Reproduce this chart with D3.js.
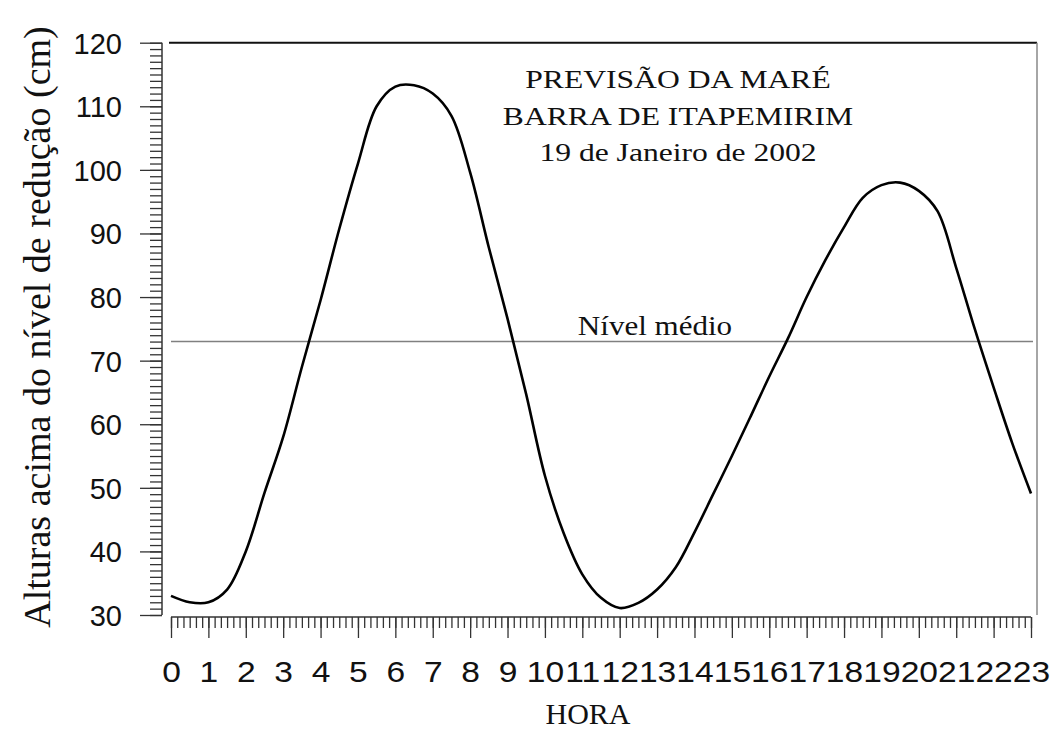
<!DOCTYPE html>
<html>
<head>
<meta charset="utf-8">
<script src="https://cdn.jsdelivr.net/npm/d3@7"></script>
<style>
  body { margin: 0; background: #fff; }
  svg { display: block; }
  .sans { font-family: "Liberation Sans", Arial, sans-serif; }
  .serif { font-family: "Liberation Serif", "Times New Roman", serif; }
</style>
</head>
<body>
<svg width="1051" height="733"></svg>
<script>
// horas (meia em meia hora) e alturas
const horas = [0, 0.5, 1, 1.5, 2, 2.5, 3, 3.5, 4, 4.5, 5, 5.5, 6, 6.5, 7, 7.5, 8, 8.5, 9, 9.5,
  10, 10.5, 11, 11.5, 12, 12.5, 13, 13.5, 14, 14.5, 15, 15.5, 16, 16.5, 17, 17.5, 18, 18.5,
  19, 19.5, 20, 20.5, 21, 21.5, 22, 22.5, 23];
const alturas = [33.0, 32.0, 32.0, 34.0, 40.0, 49.2, 58.0, 69.0, 79.5, 90.7, 101.0, 110.0, 113.1, 113.3, 112.0, 108.5, 99.6, 87.8, 76.6, 64.7,
  51.9, 42.9, 36.4, 32.7, 31.1, 31.9, 34.0, 37.5, 43.0, 49.0, 55.0, 61.2, 67.5, 73.5, 80.0, 85.8, 91.0, 95.6,
  97.6, 98.0, 96.7, 93.5, 84.6, 74.9, 65.8, 57.0, 49.1];
const nivelMedio = 73;
const yTicks = [30, 40, 50, 60, 70, 80, 90, 100, 110, 120];
const xTicks = d3.range(0, 24);
const titulo = ["PREVISÃO DA MARÉ", "BARRA DE ITAPEMIRIM", "19 de Janeiro de 2002"];

let svg = d3.select("svg");

const x = d3.scaleLinear().domain([0, 23]).range([171, 1031]);
const y = d3.scaleLinear().domain([30, 120]).range([615, 42.7]);

// moldura (topo e direita)
svg.append("line").attr("x1", 169).attr("x2", 1037).attr("y1", y(120)).attr("y2", y(120))
  .attr("stroke", "#111").attr("stroke-width", 2);
svg.append("line").attr("x1", 1037).attr("x2", 1037).attr("y1", y(120)).attr("y2", y(30))
  .attr("stroke", "#888").attr("stroke-width", 1.5);

// eixo y: ticks menores de 1 cm, maiores de 10 cm
const yMinor = svg.append("g").attr("transform", "translate(162,0)")
  .call(d3.axisLeft(y).tickValues(d3.range(30, 121, 1)).tickSize(12).tickFormat(""));
const yMajor = svg.append("g").attr("transform", "translate(162,0)").attr("class", "sans")
  .call(d3.axisLeft(y).tickValues(yTicks).tickSize(22).tickPadding(18));
yMajor.selectAll("text").attr("font-size", 29).attr("fill", "#111").attr("dy", "0.36em");

// eixo x: ticks de 10 em 10 minutos
const xMinor = svg.append("g").attr("transform", "translate(0,617)")
  .call(d3.axisBottom(x).tickValues(d3.range(0, 23 * 6 + 1).map(d => d / 6)).tickSize(11).tickFormat(""));
const xMajor = svg.append("g").attr("transform", "translate(0,617)").attr("class", "sans")
  .call(d3.axisBottom(x).tickValues(xTicks).tickSize(21).tickPadding(0));
xMajor.selectAll("text").attr("font-size", 30).attr("fill", "#111")
  .attr("y", 0).attr("dy", 0)
  .attr("transform", "translate(0,65) scale(1.12,1)");

[yMinor, yMajor, xMinor, xMajor].forEach(g => {
  g.selectAll("line").attr("stroke", "#333").attr("stroke-width", 1.3);
  g.select(".domain").attr("stroke", "#333").attr("stroke-width", 1.5);
});
xMinor.select(".domain").remove();
xMajor.select(".domain").attr("d", `M${x(0)},0H${x(23)}`);
yMinor.select(".domain").remove();
yMajor.select(".domain").attr("d", `M0,${y(120)}V${y(30)}`);

// nivel medio
svg.append("line").attr("x1", x(0)).attr("x2", x(23) + 2)
  .attr("y1", y(nivelMedio)).attr("y2", y(nivelMedio))
  .attr("stroke", "#808080").attr("stroke-width", 1.5);
svg.append("g").attr("transform", `translate(655,${y(nivelMedio) - 7}) scale(1.15,1)`)
  .append("text").attr("class", "serif").attr("font-size", 27).attr("text-anchor", "middle")
  .attr("fill", "#111").text("Nível médio");

// curva da mare
const linha = d3.line().x((d, i) => x(horas[i])).y(d => y(d)).curve(d3.curveCatmullRom.alpha(0.5));
svg.append("path").datum(alturas).attr("d", linha)
  .attr("fill", "none").attr("stroke", "#000").attr("stroke-width", 2.6);

// titulo
titulo.forEach((t, i) => {
  svg.append("g").attr("transform", `translate(678,${88 + i * 36.5}) scale(1.29,1)`)
    .append("text").attr("class", "serif").attr("font-size", 24.5).attr("text-anchor", "middle")
    .attr("fill", "#111").text(t);
});

// rotulos dos eixos
svg.append("text").attr("class", "serif").attr("font-size", 30).attr("text-anchor", "middle")
  .attr("fill", "#111").attr("x", 588).attr("y", 724).text("HORA");
svg.append("text").attr("class", "serif").attr("font-size", 38).attr("text-anchor", "middle")
  .attr("fill", "#111").attr("transform", "translate(50,327) rotate(-90)")
  .text("Alturas acima do nível de redução (cm)");
</script>
</body>
</html>
